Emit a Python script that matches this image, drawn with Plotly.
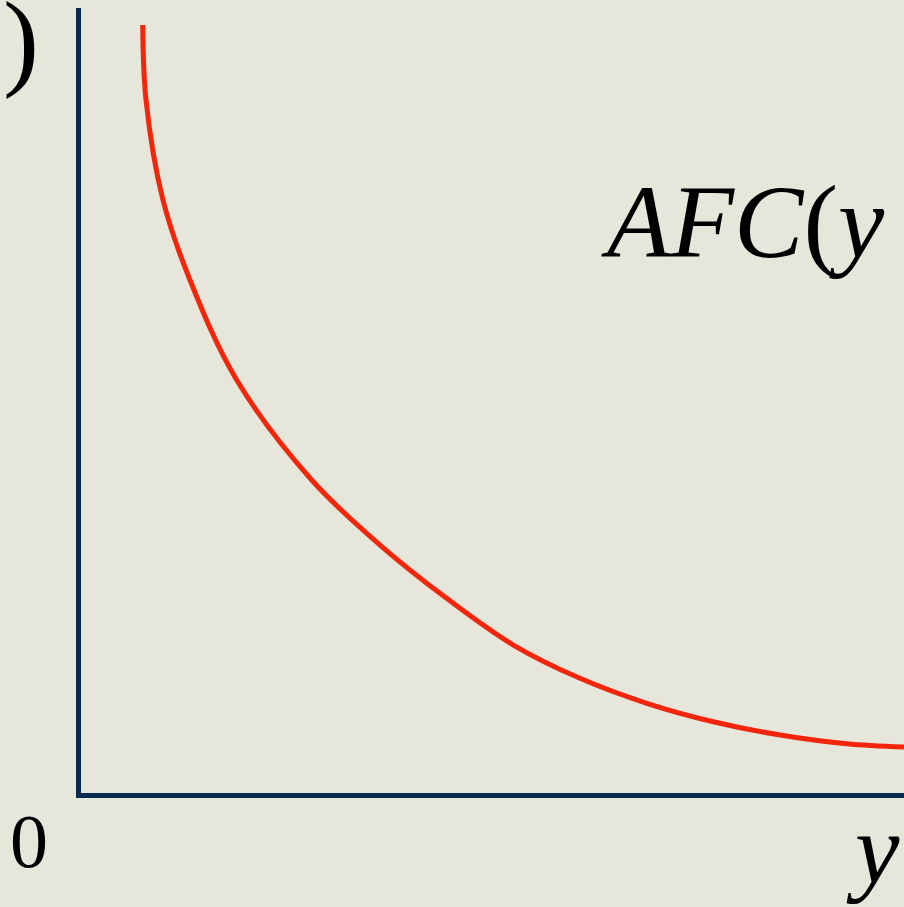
import plotly.graph_objects as go

# Average fixed cost curve AFC(y): output quantity vs. cost per unit
quantity = [0.750, 0.790, 0.996, 1.324, 1.892, 2.803, 3.633, 4.443, 5.253, 6.063,
            6.874, 7.683, 8.493, 9.304, 10.0]
afc = [9.783, 8.828, 7.554, 6.535, 5.261, 3.987, 3.159, 2.480, 1.885, 1.461,
       1.143, 0.908, 0.739, 0.628, 0.586]

W, H = 904, 907
L, R, T, B = 81, 0, 8, 114
PW, PH = W - L - R, H - T - B


def px_x(x):
    return (x - L) / PW


def px_y(y):
    return (H - B - y) / PH


BG = "#E6E6DA"
AXIS = "#0B2A4F"
CURVE = "#F3260C"
SERIF = "Liberation Serif, Times New Roman, serif"

fig = go.Figure()
fig.add_trace(go.Scatter(
    x=quantity, y=afc, mode="lines",
    line=dict(color=CURVE, width=5, shape="spline", smoothing=1.0),
    hoverinfo="skip", showlegend=False,
))

annotations = [
    dict(text="<i>AFC</i>(<i>y</i>", x=px_x(599), y=px_y(222), size=104),
    dict(text=")", x=px_x(1), y=px_y(40), size=108),
    dict(text="0", x=px_x(8), y=px_y(841), size=76),
    dict(text="<i>y</i>", x=px_x(844), y=px_y(849), size=100),
]
for a in annotations:
    fig.add_annotation(
        text=a["text"], x=a["x"], y=a["y"], xref="paper", yref="paper",
        xanchor="left", yanchor="middle", showarrow=False,
        font=dict(family=SERIF, size=a["size"], color="#000000"),
    )

axis_common = dict(
    showline=True, linecolor=AXIS, linewidth=5, showgrid=False,
    zeroline=False, showticklabels=False, ticks="", fixedrange=True,
)
fig.update_xaxes(range=[0, 10], **axis_common)
fig.update_yaxes(range=[0, 10], **axis_common)

fig.update_layout(
    width=W, height=H,
    margin=dict(l=L, r=R, t=T, b=B, pad=0),
    paper_bgcolor=BG, plot_bgcolor=BG,
    showlegend=False,
)

fig.write_html("out.html", config={"displayModeBar": False})
